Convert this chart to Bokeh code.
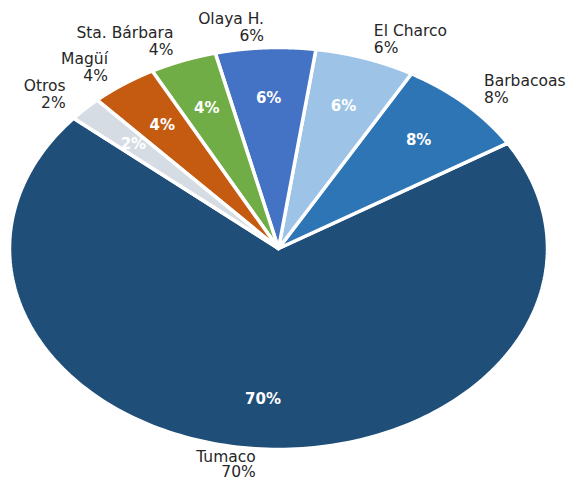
import numpy as np
from bokeh.plotting import figure
from bokeh.models import Range1d, ColumnDataSource
from bokeh.core.properties import value
from bokeh.embed import file_html
from bokeh.resources import INLINE

# ---- data ----
names = ["Tumaco", "Barbacoas", "El Charco", "Olaya H.", "Sta. Bárbara", "Magüí", "Otros"]
values = [70, 8, 6, 6, 4, 4, 2]
colors = ["#1F4E79", "#2E75B6", "#9DC3E6", "#4472C4", "#70AD47", "#C55A11", "#D6DCE4"]
pct_labels = ["70%", "8%", "6%", "6%", "4%", "4%", "2%"]

# ---- layout ----
W, H = 570, 480
CX, CY = 278, 248        # pie centre in figure pixels (from top-left)
RX, RY = 269, 201        # ellipse semi-axes in pixels
START_DEG = 139.6        # start angle of first slice (counter-clockwise)

y_top = CY / RY
y_bot = -(H - CY) / RY
p = figure(width=W, height=H, output_backend="svg", toolbar_location=None,
           x_axis_type=None, y_axis_type=None, min_border=0,
           x_range=Range1d(-CX / RX, (W - CX) / RX),
           y_range=Range1d(y_bot, y_top))
p.outline_line_color = None
p.grid.visible = False
p.background_fill_color = "white"
p.border_fill_color = "white"

total = float(sum(values))
xs, ys, mids = [], [], []
a = np.deg2rad(START_DEG)
for v in values:
    span = 2 * np.pi * v / total
    arc = np.linspace(a, a + span, 200)
    xs.append([0.0] + np.cos(arc).tolist())
    ys.append([0.0] + np.sin(arc).tolist())
    mids.append(a + span / 2)
    a += span
mids = np.array(mids)

src = ColumnDataSource(dict(xs=xs, ys=ys, color=colors, name=names))
p.patches("xs", "ys", source=src, fill_color="color", line_color="white",
          line_width=3.5, line_join="round")

# inside labels
r_in = 0.75
ins = ColumnDataSource(dict(x=r_in * np.cos(mids), y=r_in * np.sin(mids), t=pct_labels))
p.text("x", "y", text="t", source=ins, text_color="white",
       text_font=value("DejaVu Sans"), text_font_style="bold",
       text_font_size="15px", text_align="center", text_baseline="middle")

# outside labels (two lines: name above, percentage below)
r_out = 1.10
ox = r_out * np.cos(mids)
oy = r_out * np.sin(mids)
half = np.full(len(names), 8.5)            # half line spacing in px
# keep the bottom label inside the canvas
lowest = y_bot + 16.5 / RY
for i in range(len(names)):
    if oy[i] < lowest:
        oy[i] = lowest
        half[i] = 7.5
name_y = oy + half / RY
pct_y = oy - half / RY

for side, align in ((1, "left"), (-1, "right")):
    idx = [i for i in range(len(names)) if np.sign(np.cos(mids[i])) == side]
    s = ColumnDataSource(dict(x=ox[idx], ny=name_y[idx], py=pct_y[idx],
                              n=[names[i] for i in idx],
                              t=[pct_labels[i] for i in idx]))
    for ycol, col in (("ny", "n"), ("py", "t")):
        p.text("x", ycol, text=col, source=s, text_color="#262626",
               text_font=value("DejaVu Sans"), text_font_size="15.5px",
               text_align=align, text_baseline="middle")

open("out.html", "w").write(file_html(p, INLINE))
